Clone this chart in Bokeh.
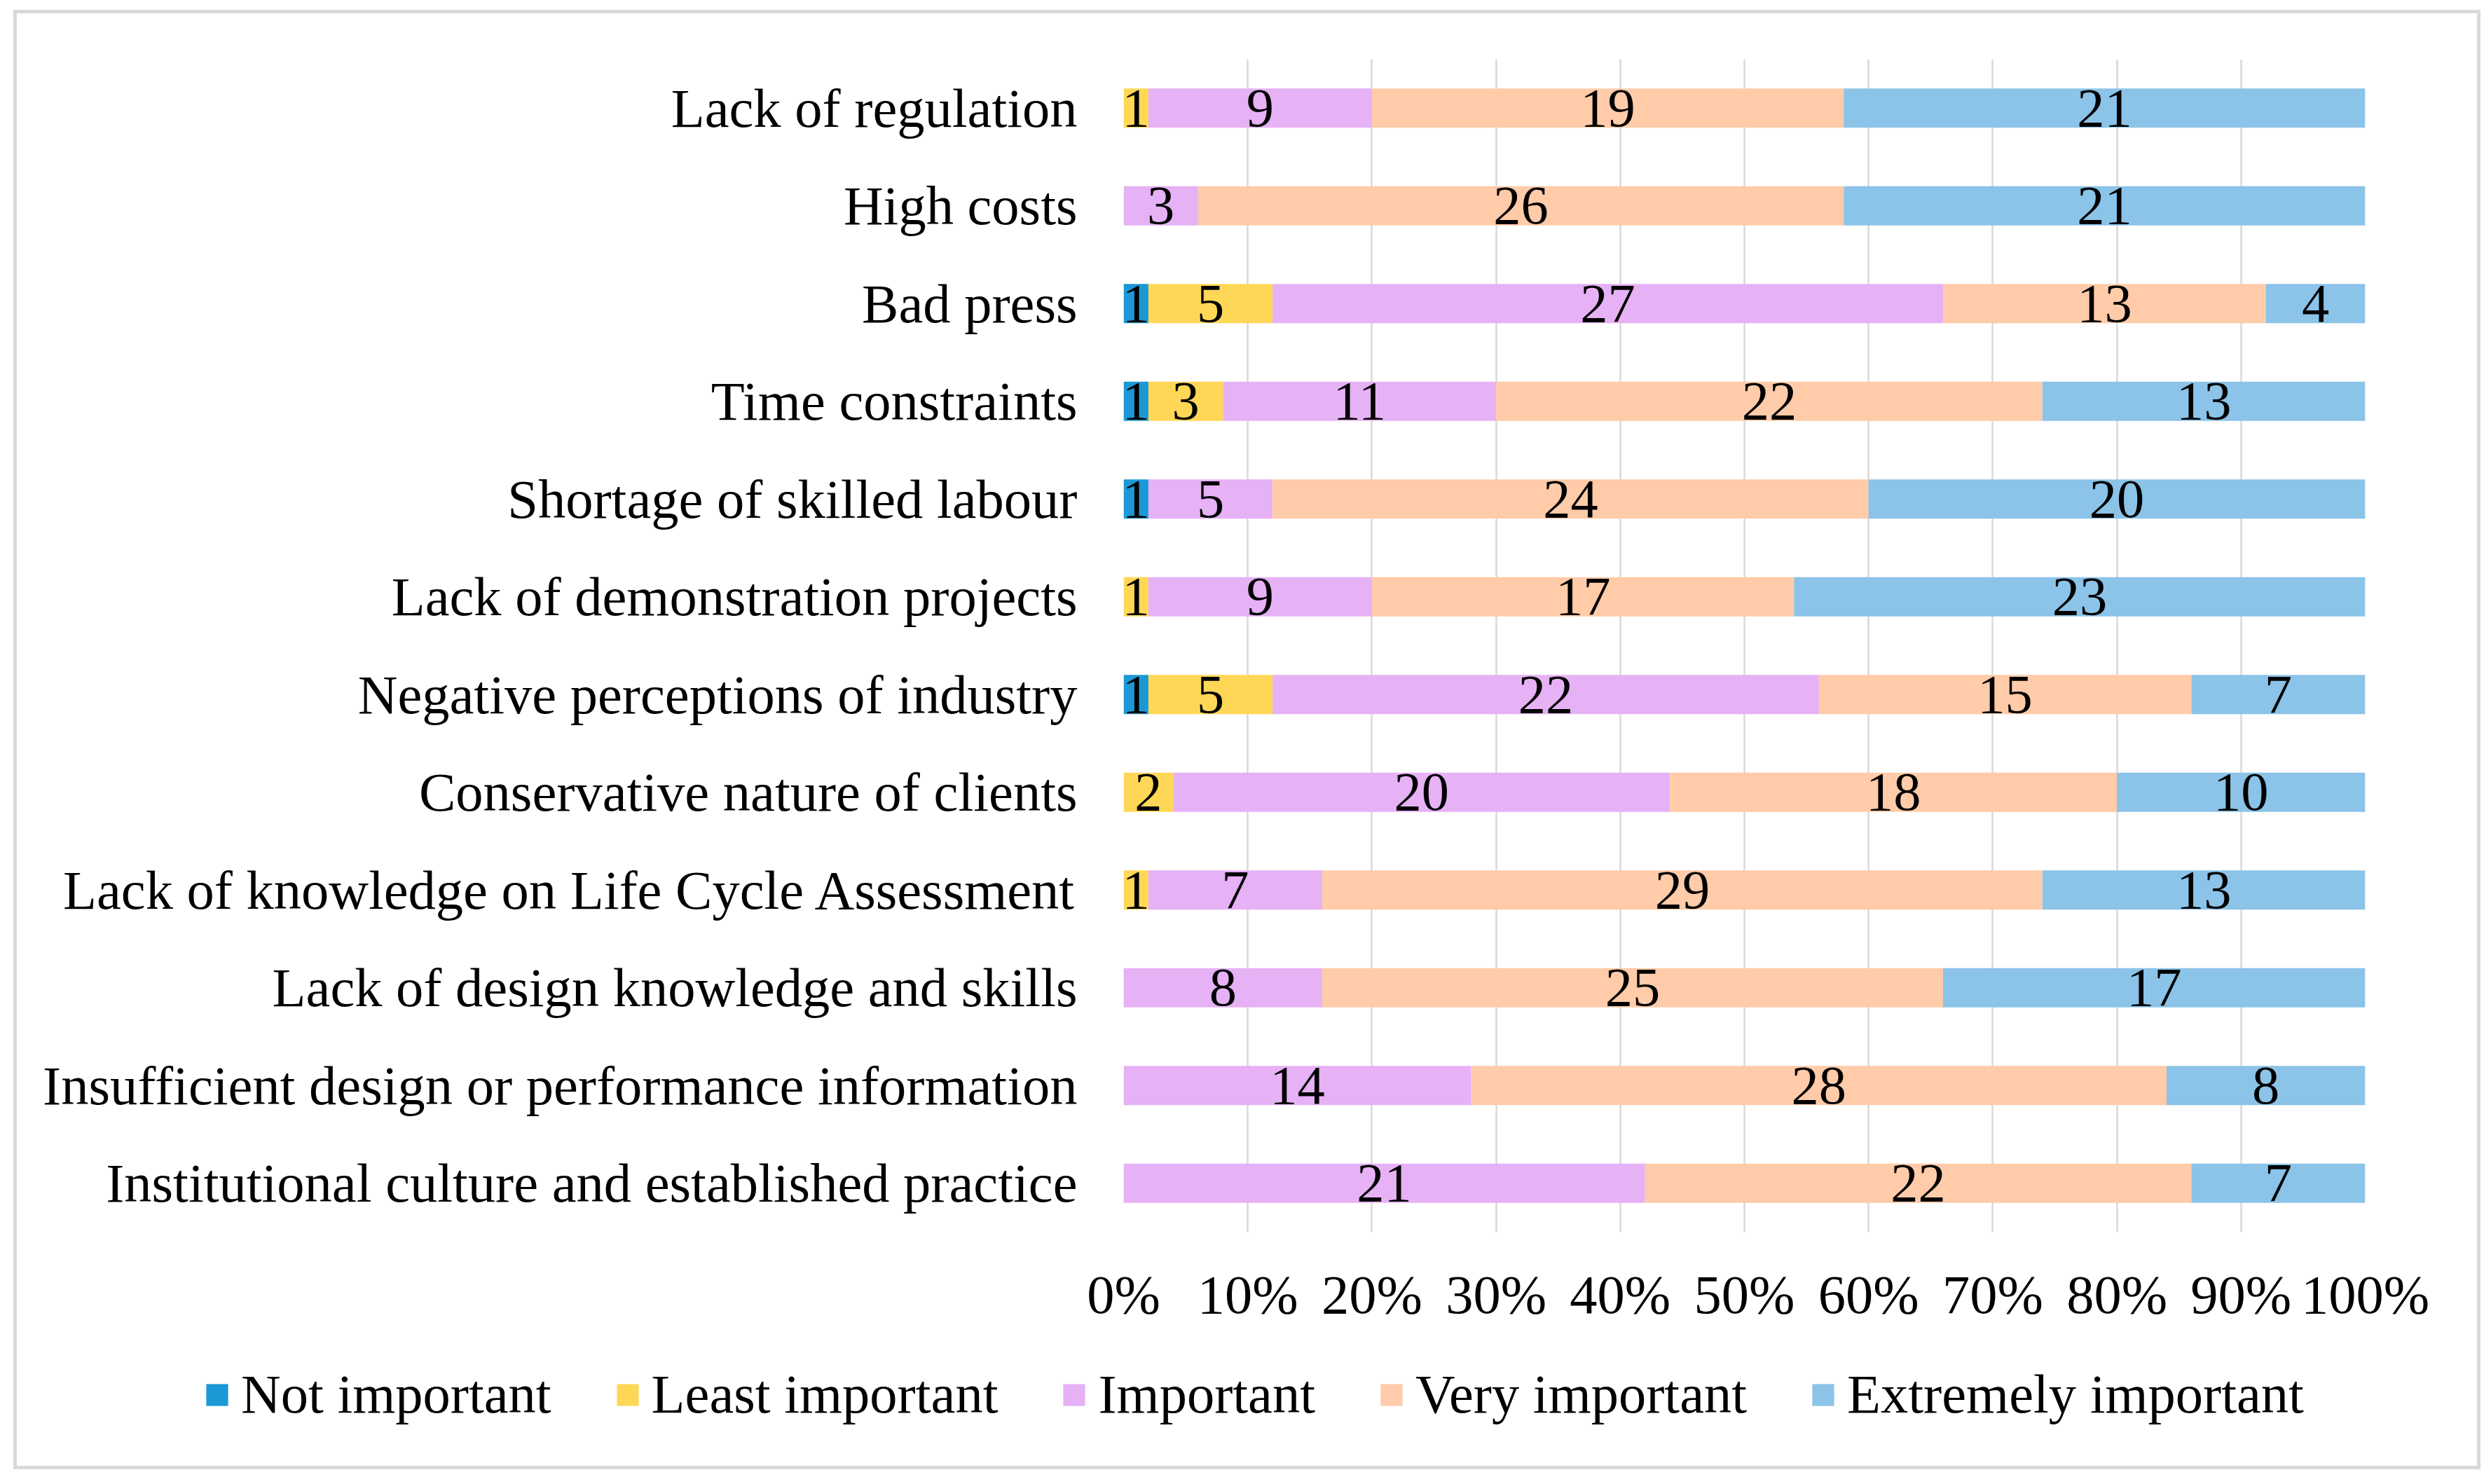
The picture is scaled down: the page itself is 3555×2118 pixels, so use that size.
from bokeh.plotting import figure
from bokeh.layouts import column
from bokeh.models import (ColumnDataSource, FactorRange, Range1d, FixedTicker,
                          Legend, LegendItem)
from bokeh.core.properties import value
from bokeh.embed import file_html
from bokeh.resources import INLINE

# ---------------- data (top row first) ----------------
categories = [
    "Lack of regulation",
    "High costs",
    "Bad press",
    "Time constraints",
    "Shortage of skilled labour",
    "Lack of demonstration projects",
    "Negative perceptions of industry",
    "Conservative nature of clients",
    "Lack of knowledge on Life Cycle Assessment",
    "Lack of design knowledge and skills",
    "Insufficient design or performance information",
    "Institutional culture and established practice",
]
series_names = ["Not important", "Least important", "Important",
                "Very important", "Extremely important"]
not_important = [0, 0, 1, 1, 1, 0, 1, 0, 0, 0, 0, 0]
least_important = [1, 0, 5, 3, 0, 1, 5, 2, 1, 0, 0, 0]
important = [9, 3, 27, 11, 5, 9, 22, 20, 7, 8, 14, 21]
very_important = [19, 26, 13, 22, 24, 17, 15, 18, 29, 25, 28, 22]
extremely_important = [21, 21, 4, 13, 20, 23, 7, 10, 13, 17, 8, 7]
series_colors = ["#1B98D5", "#FFD757", "#E6B1F5", "#FFCBA9", "#8CC3E8"]
x_ticks = [0, 10, 20, 30, 40, 50, 60, 70, 80, 90, 100]
x_tick_labels = ["0%", "10%", "20%", "30%", "40%", "50%",
                 "60%", "70%", "80%", "90%", "100%"]

FONT = "Liberation Serif"
FS = "78.5px"

series_values = [not_important, least_important, important,
                 very_important, extremely_important]
keys = ["s0", "s1", "s2", "s3", "s4"]
totals = [sum(vals) for vals in zip(*series_values)]

data = {"cat": categories}
for k, vals in zip(keys, series_values):
    data[k] = [v / t * 100.0 for v, t in zip(vals, totals)]
src = ColumnDataSource(data)

# label positions (segment centres)
lx, ly, lt = [], [], []
for i, cat in enumerate(categories):
    cum = 0.0
    for vals in series_values:
        pct = vals[i] / totals[i] * 100.0
        if vals[i] > 0:
            lx.append(cum + pct / 2.0)
            ly.append(cat)
            lt.append(str(vals[i]))
        cum += pct
lbl_src = ColumnDataSource(dict(x=lx, y=ly, t=lt))

TOTAL_W = 3549
MAIN_H = 1930
LEG_H = 181
FRAME_L = 1598
FRAME_W = 1772

p = figure(
    y_range=FactorRange(factors=list(reversed(categories))),
    x_range=Range1d(0, 100),
    frame_width=FRAME_W, frame_height=1674,
    min_border_left=FRAME_L, min_border_right=TOTAL_W - FRAME_L - FRAME_W,
    min_border_top=84, min_border_bottom=MAIN_H - 84 - 1674,
    output_backend="svg", toolbar_location=None,
)
p.outline_line_color = None
p.background_fill_color = "white"
p.border_fill_alpha = 0

renderers = p.hbar_stack(keys, y="cat", height=0.4, color=series_colors,
                         line_color=None, source=src)

p.text(x="x", y="y", text="t", source=lbl_src,
       text_font=value(FONT), text_font_size=FS,
       text_align="center", text_baseline="middle", text_color="#000000")

# axes
p.xaxis.ticker = FixedTicker(ticks=x_ticks)
p.xaxis.major_label_overrides = {t: l for t, l in zip(x_ticks, x_tick_labels)}
for ax in (p.xaxis[0], p.yaxis[0]):
    ax.axis_line_color = None
    ax.major_tick_line_color = None
    ax.minor_tick_line_color = None
    ax.major_tick_out = 0
    ax.major_tick_in = 0
    ax.major_label_text_font = FONT
    ax.major_label_text_font_size = FS
    ax.major_label_text_color = "#000000"
p.xaxis.major_label_standoff = 45
p.yaxis.major_label_standoff = 66

p.xgrid.ticker = FixedTicker(ticks=x_ticks)
p.xgrid.grid_line_color = "#d9d9d9"
p.xgrid.grid_line_width = 2.5
p.ygrid.grid_line_color = None

# ---------------- legend strip ----------------
q = figure(
    x_range=Range1d(0, 1), y_range=Range1d(0, 1),
    frame_width=TOTAL_W, frame_height=LEG_H,
    min_border_left=0, min_border_right=0, min_border_top=0, min_border_bottom=0,
    output_backend="svg", toolbar_location=None,
)
q.axis.visible = False
q.grid.grid_line_color = None
q.outline_line_color = None
q.background_fill_alpha = 0
q.border_fill_alpha = 0

# zero-size proxy bars (invisible) that carry each series' colour into the legend
leg_renderers = [q.hbar(y=[0], left=[0], right=[0], height=0, color=c, line_color=None)
                 for c in series_colors]

legend = Legend(
    items=[LegendItem(label=n, renderers=[r]) for n, r in zip(series_names, leg_renderers)],
    orientation="horizontal",
    location=(285, 76),
    glyph_width=39, glyph_height=39,
    label_standoff=15, spacing=89,
    padding=0, margin=0,
    border_line_color=None, background_fill_alpha=0,
    label_text_font=FONT, label_text_font_size=FS,
    label_text_color="#000000",
)
q.add_layout(legend, "center")

layout = column(p, q, spacing=0)
layout.styles = {
    "outline": "5.5px solid #d9d9d9",
    "outline-offset": "-19px",
    "margin-left": "5px",
}

open("out.html", "w").write(file_html(layout, INLINE))
